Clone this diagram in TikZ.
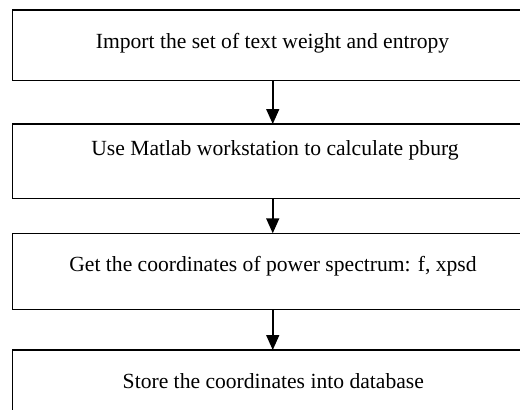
\documentclass[tikz,border=0pt]{standalone}
\usepackage{fontspec}
\setmainfont{Liberation Serif}
\usetikzlibrary{arrows.meta}
\begin{document}
\begin{tikzpicture}[x=1pt,y=-1pt,
  stage/.style={draw, line width=1.5pt, minimum width=520.5pt, inner sep=0pt,
    outer sep=0pt, anchor=north west},
  caption/.style={anchor=base, inner sep=0pt, font=\fontsize{21.6}{26}\selectfont},
  flow/.style={line width=1.5pt, -{Triangle[width=13pt,length=15pt]}}]
\useasboundingbox (0,0) rectangle (520,410);
\clip (0,0) rectangle (520,410);
% process stages (the boxes run past the right and bottom edges)
\node[stage, minimum height=70.7pt] (s1) at (12.5,10) {};
\node[stage, minimum height=74.3pt] (s2) at (12.5,124) {};
\node[stage, minimum height=76pt]   (s3) at (12.5,233.3) {};
\node[stage, minimum height=70pt]   (s4) at (12.5,350) {};
% stage texts
\node[caption] (t1) at (272.5,48.3) {Import the set of text weight and entropy};
\node[caption] (t2) at (275,155) {Use Matlab workstation to calculate pburg};
\node[caption] (t3) at (273,271.7) {Get the coordinates of power spectrum: f, xpsd};
\node[caption] (t4) at (273.3,388) {Store the coordinates into database};
% flow between stages
\draw[flow] (s1.south) -- (s2.north);
\draw[flow] (s2.south) -- (s3.north);
\draw[flow] (s3.south) -- (s4.north);
\end{tikzpicture}
\end{document}
